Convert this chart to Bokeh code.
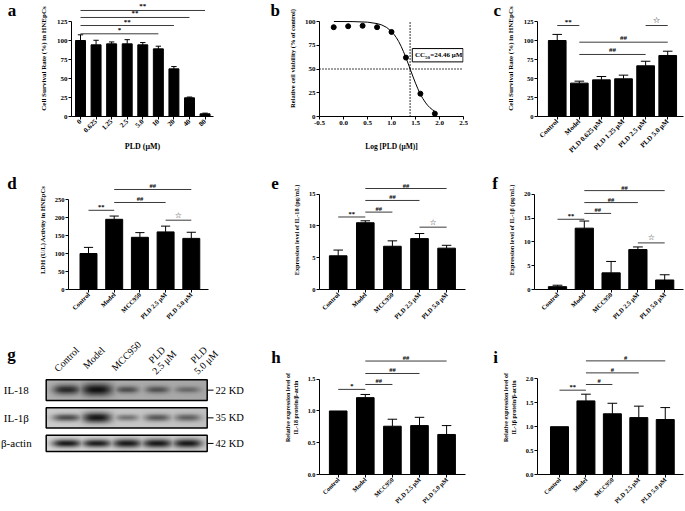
import numpy as np
from math import pi
from bokeh.plotting import figure
from bokeh.models import Range1d, FixedTicker, PrintfTickFormatter
from bokeh.layouts import column, row
from bokeh.embed import file_html
from bokeh.resources import INLINE
from bokeh.core.properties import value

SERIF = "Liberation Serif"
SYMBOL = "DejaVu Sans"

# ---------------- data ----------------
a_doses = ["0", "0.625", "1.25", "2.5", "5.0", "10", "20", "40", "80"]
a_survival = [100, 94.3, 95.6, 95.6, 94.3, 89.0, 62.7, 24.6, 3.5]
a_sd = [7.5, 6.0, 2.5, 5.5, 3.0, 3.5, 3.0, 1.0, 0.9]
a_sig_from = [0, 0, 0, 0]
a_sig_to = [5, 6, 7, 8]
a_sig_y = [108.8, 119.7, 130.3, 139.5]
a_sig_text = ["*", "**", "**", "**"]

b_log_dose = [-0.204, 0.097, 0.398, 0.699, 1.0, 1.301, 1.602, 1.903]
b_viability = [94, 95, 95.5, 94, 89, 62, 24, 3]
b_fit_x = [-0.2, 0.2, 0.5, 0.7, 0.8, 0.9, 1.0, 1.05, 1.1, 1.15, 1.2, 1.25, 1.3,
           1.35, 1.4, 1.45, 1.5, 1.55, 1.6, 1.65, 1.7, 1.75, 1.8, 1.85, 1.9]
b_fit_y = [100.0, 99.9, 99.3, 97.8, 96.3, 93.7, 89.5, 86.6, 83.1, 78.9, 73.9, 68.2, 62.0,
           55.3, 48.4, 41.6, 35.1, 29.1, 23.7, 19.1, 15.2, 11.9, 9.3, 7.2, 5.6]
b_cc50_log = 1.388
b_cc50_value = "=24.46 μM"

c_groups = ["Control", "Model", "PLD 0.625 μM", "PLD 1.25 μM", "PLD 2.5 μM", "PLD 5.0 μM"]
c_survival = [100, 43.9, 48.2, 49.6, 66.7, 80.3]
c_sd = [8.0, 2.6, 4.4, 4.8, 6.0, 5.6]
c_sig_from = [0, 4, 1, 1]
c_sig_to = [1, 5, 5, 4]
c_sig_y = [119.7, 119.7, 97.8, 81.6]
c_sig_text = ["**", "☆", "##", "##"]

groups5 = ["Control", "Model", "MCC950", "PLD 2.5 μM", "PLD 5.0 μM"]

d_ldh = [100, 195, 145, 160, 142]
d_sd = [17, 9, 13, 16, 17]
d_sig_from = [0, 1, 1, 3]
d_sig_to = [1, 3, 4, 4]
d_sig_y = [220, 241.7, 277.8, 192.5]
d_sig_text = ["**", "##", "##", "☆"]

e_il18 = [5.3, 10.5, 6.8, 8.0, 6.5]
e_sd = [0.9, 0.3, 0.85, 0.8, 0.45]
e_sig_from = [0, 1, 1, 1, 3]
e_sig_to = [1, 2, 3, 4, 4]
e_sig_y = [11.4, 12.17, 14.0, 15.88, 9.8]
e_sig_text = ["**", "##", "##", "##", "☆"]

f_il1b = [0.6, 12.9, 3.5, 8.4, 2.0]
f_sd = [0.3, 1.5, 2.4, 0.55, 1.1]
f_sig_from = [0, 1, 1, 1, 3]
f_sig_to = [1, 2, 3, 4, 4]
f_sig_y = [14.77, 16.0, 18.28, 20.8, 9.8]
f_sig_text = ["**", "##", "##", "##", "☆"]

g_lanes = ["Control", "Model", "MCC950", "PLD\n2.5 μM", "PLD\n5.0 μM"]
g_targets = ["IL-18", "IL-1β", "β-actin"]
g_kd = ["22 KD", "35 KD", "42 KD"]
g_il18_band = [0.85, 1.00, 0.60, 0.58, 0.42]
g_il1b_band = [0.68, 0.97, 0.45, 0.60, 0.55]
g_actin_band = [0.97, 0.95, 0.97, 0.97, 0.97]

h_ratio = [1.0, 1.21, 0.76, 0.77, 0.63]
h_sd = [0.0, 0.05, 0.11, 0.13, 0.14]
h_sig_from = [0, 1, 1, 1]
h_sig_to = [1, 2, 3, 4]
h_sig_y = [1.34, 1.417, 1.59, 1.786]
h_sig_text = ["*", "##", "##", "##"]

i_ratio = [1.0, 1.54, 1.27, 1.19, 1.15]
i_sd = [0.0, 0.14, 0.22, 0.24, 0.25]
i_sig_from = [0, 1, 1, 1]
i_sig_to = [1, 2, 3, 4]
i_sig_y = [1.764, 1.883, 2.126, 2.377]
i_sig_text = ["**", "#", "#", "#"]


# ---------------- helpers ----------------
def base_fig(cell, frame, x_range, y_range, axes=True):
    cl, ct, cr, cb = cell
    fl, ft, fr, fb = frame
    kw = {}
    if not axes:
        kw = dict(x_axis_type=None, y_axis_type=None)
    p = figure(width=cr - cl, height=cb - ct, x_range=x_range, y_range=y_range,
               min_border_left=fl - cl, min_border_right=cr - fr,
               min_border_top=ft - ct, min_border_bottom=cb - fb,
               output_backend="svg", toolbar_location=None, title=None, **kw)
    p.xgrid.visible = False
    p.ygrid.visible = False
    p.outline_line_color = None
    p.background_fill_color = "white"
    p.border_fill_color = "white"
    return p


def letter_fig(cell, letter, xy):
    cl, ct, cr, cb = cell
    p = base_fig(cell, cell, Range1d(cl, cr), Range1d(0, cb - ct), axes=False)
    p.text(x=[xy[0]], y=[cb - xy[1]], text=[letter], text_align="left",
           text_baseline="alphabetic", text_font=value(SERIF), text_font_style="bold",
           text_font_size="17px", text_color="black")
    return p


def style_axes(p, tick_px, lab_px, lab_standoff=6):
    for ax in p.axis:
        ax.axis_line_color = "black"
        ax.axis_line_width = 1
        ax.major_tick_line_color = "black"
        ax.major_tick_line_width = 1
        ax.major_tick_in = 0
        ax.major_tick_out = 3
        ax.minor_tick_line_color = None
        ax.major_label_text_font = SERIF
        ax.major_label_text_font_style = "bold"
        ax.major_label_text_font_size = f"{tick_px}px"
        ax.major_label_text_color = "black"
        ax.major_label_standoff = 1
        ax.axis_label_text_font = SERIF
        ax.axis_label_text_font_style = "bold"
        ax.axis_label_text_font_size = f"{lab_px}px"
        ax.axis_label_text_color = "black"
        ax.axis_label_standoff = lab_standoff


def add_sig(p, s_from, s_to, s_y, s_text, size_px):
    p.segment(x0=s_from, x1=s_to, y0=s_y, y1=s_y, line_color="#3a3a3a", line_width=1)
    mids = [(a + b) / 2 for a, b in zip(s_from, s_to)]
    normal = [k for k, t in enumerate(s_text) if t != "☆"]
    stars = [k for k, t in enumerate(s_text) if t == "☆"]
    if normal:
        p.text(x=[mids[k] for k in normal], y=[s_y[k] for k in normal],
               text=[s_text[k] for k in normal], text_align="center",
               text_baseline="bottom", text_font=value(SERIF), text_font_style="bold",
               text_font_size=f"{size_px}px", text_color="black")
    if stars:
        p.text(x=[mids[k] for k in stars], y=[s_y[k] for k in stars],
               text=[s_text[k] for k in stars], text_align="center",
               text_baseline="bottom", text_font=value(SYMBOL), text_font_style="bold",
               text_font_size=f"{size_px + 1.5}px", text_color="#222222", y_offset=-0.5)


def bar_panel(cell, frame, first_px, step_px, ppu, cats, vals, sds,
              s_from, s_to, s_y, s_text, yticks, ylabel, tick_px, lab_px,
              bar_w=0.66, yfmt=None, xlabel=None, sig_px=7, xtick_px=None):
    fl, ft, fr, fb = frame
    x0 = -(first_px - fl) / step_px
    xr = Range1d(x0, x0 + (fr - fl) / step_px)
    yr = Range1d(0, (fb - ft) / ppu)
    p = base_fig(cell, frame, xr, yr)
    idx = list(range(len(cats)))
    p.vbar(x=idx, top=vals, width=bar_w, fill_color="black", line_color="black", line_width=1)
    ei = [k for k in idx if sds[k] > 0]
    tops = [vals[k] + sds[k] for k in ei]
    cw = bar_w * 0.27
    p.segment(x0=ei, x1=ei, y0=[vals[k] for k in ei], y1=tops, line_color="black", line_width=1)
    p.segment(x0=[k - cw for k in ei], x1=[k + cw for k in ei], y0=tops, y1=tops,
              line_color="black", line_width=1)
    add_sig(p, s_from, s_to, s_y, s_text, sig_px)
    style_axes(p, tick_px, lab_px)
    p.yaxis.bounds = (0, yticks[-1])
    p.yaxis.ticker = FixedTicker(ticks=yticks)
    if yfmt:
        p.yaxis.formatter = PrintfTickFormatter(format=yfmt)
    p.yaxis.axis_label = ylabel
    p.xaxis.ticker = FixedTicker(ticks=idx)
    p.xaxis.major_label_overrides = {k: c for k, c in enumerate(cats)}
    p.xaxis.major_label_orientation = pi / 4
    if xtick_px:
        p.xaxis.major_label_text_font_size = f"{xtick_px}px"
    if xlabel:
        p.xaxis.axis_label = xlabel
        p.xaxis.axis_label_text_font_size = "8px"
        p.xaxis.axis_label_standoff = 5
    return p


# ---------------- row 1 ----------------
la = letter_fig((0, 0, 30, 170), "a", (7.3, 15))
pa = bar_panel((30, 0, 225, 170), (71, 0, 213, 116), 80, 15.57, 0.76,
               a_doses, a_survival, a_sd, a_sig_from, a_sig_to, a_sig_y, a_sig_text,
               [0, 25, 50, 75, 100, 125], "Cell Survival Rate (%) in HNEpCs", 7, 7,
               bar_w=0.64, xlabel="PLD (μM)")

lb = letter_fig((225, 0, 285, 170), "b", (270, 15))
B_CELL = (285, 0, 468, 170)
B_FRAME = (319, 0, 463, 116)
pb = base_fig(B_CELL, B_FRAME, Range1d(-0.5, 2.5), Range1d(0, 116 / 0.95))
pb.line(x=b_fit_x, y=b_fit_y, line_color="black", line_width=1)
pb.segment(x0=[b_cc50_log, -0.5], x1=[b_cc50_log, 2.5], y0=[0, 50], y1=[101, 50],
           line_color="black", line_width=1.6, line_dash="1 2")
pb.scatter(x=b_log_dose, y=b_viability, size=5, marker="circle",
           fill_color="black", line_color="black")
pb.quad(left=[1.433], right=[2.49], bottom=[57.5], top=[71.5],
        fill_color="white", line_color="black", line_width=1)
pb.text(x=[1.487], y=[64.3], text=["CC"], text_baseline="middle", text_align="left",
        text_font=value(SERIF), text_font_style="bold", text_font_size="7px")
pb.text(x=[1.487], y=[64.3], text=["50"], text_baseline="middle", text_align="left",
        text_font=value(SERIF), text_font_style="bold", text_font_size="5px",
        x_offset=10.2, y_offset=2)
pb.text(x=[1.487], y=[64.3], text=[b_cc50_value], text_baseline="middle", text_align="left",
        text_font=value(SERIF), text_font_style="bold", text_font_size="7px",
        x_offset=15.4)
style_axes(pb, 7, 6.5)
pb.yaxis.bounds = (0, 100)
pb.yaxis.ticker = FixedTicker(ticks=[0, 25, 50, 75, 100])
pb.yaxis.axis_label = "Relative cell viability (% of control)"
pb.xaxis.ticker = FixedTicker(ticks=[-0.5, 0, 0.5, 1.0, 1.5, 2.0, 2.5])
pb.xaxis.formatter = PrintfTickFormatter(format="%.1f")
pb.xaxis.axis_label = "Log [PLD (μM)]"
pb.xaxis.axis_label_text_font_size = "7.5px"
pb.xaxis.axis_label_standoff = 14

lc = letter_fig((468, 0, 503, 170), "c", (493, 15))
pc = bar_panel((503, 0, 685, 170), (535, 0, 683, 116), 555, 22.4, 0.76,
               c_groups, c_survival, c_sd, c_sig_from, c_sig_to, c_sig_y, c_sig_text,
               [0, 25, 50, 75, 100, 125], "Cell Survival Rate (%) in HNEpCs", 6.5, 7,
               bar_w=0.8, xtick_px=7)

# ---------------- row 2 ----------------
ld = letter_fig((0, 170, 30, 340), "d", (6.7, 188))
pd_ = bar_panel((30, 170, 225, 340), (68, 170, 208, 289), 88, 25.7, 0.36,
                groups5, d_ldh, d_sd, d_sig_from, d_sig_to, d_sig_y, d_sig_text,
                [0, 50, 100, 150, 200, 250], "LDH (U/L) Activity in HNEpCs", 6.5, 6.5,
                bar_w=0.66, sig_px=6.5)
le = letter_fig((225, 170, 285, 340), "e", (270.7, 188.3))
pe = bar_panel((285, 170, 468, 340), (319, 170, 465, 291), 337.7, 27.1, 6.467,
               groups5, e_il18, e_sd, e_sig_from, e_sig_to, e_sig_y, e_sig_text,
               [0, 5, 10, 15], "Expression level of IL-18 (pg/mL)", 6.5, 6.3,
               bar_w=0.65, sig_px=6.5)
lf = letter_fig((468, 170, 503, 340), "f", (491.7, 188))
pf = bar_panel((503, 170, 685, 340), (534, 170, 683, 291), 557, 26.8, 4.835,
               groups5, f_il1b, f_sd, f_sig_from, f_sig_to, f_sig_y, f_sig_text,
               [0, 5, 10, 15, 20], "Expression level of IL-1β (pg/mL)", 6.5, 6.3,
               bar_w=0.68, sig_px=6.5)

# ---------------- panel g (western blot) ----------------
G_CELL = (0, 340, 250, 511)
LANE_X0, LANE_DX = 66.0, 30.2
BOXES = [(45.7, 390.0, 206.7, 416.7), (45.7, 425.7, 206.7, 451.7), (45.7, 461.0, 206.7, 481.7)]
BAND_W = [[27, 31, 23, 24, 25], [28, 29, 23, 26, 26], [29, 29, 29, 30, 29]]
BAND_H = [[12, 15, 9, 9, 8], [9, 13, 8, 9, 9], [10, 10, 11, 11, 11]]
BLOT_BG = [178, 205, 218]
HEADER_DX = [0, -3, -0.7, 3.4, 15]
HEADER_Y = [364, 362, 359.7, 363, 363]


def Y(ref):
    return G_CELL[3] - ref


def blot_rgba(dark, widths, heights, bg, box, ss=2):
    l, t, r, b = box
    W = int(round((r - l) * ss))
    H = int(round((b - t) * ss))
    xs = l + (np.arange(W) + 0.5) / ss
    ys = t + (np.arange(H) + 0.5) / ss
    X, YY = np.meshgrid(xs, ys)
    cy = (t + b) / 2
    d = np.zeros_like(X)
    for k in range(len(dark)):
        cx = LANE_X0 + k * LANE_DX
        prof = dark[k] * np.exp(-np.abs((X - cx) / (widths[k] / 2)) ** 3) \
            * np.exp(-((YY - cy) / (heights[k] / 2)) ** 2)
        d = np.maximum(d, prof)
    edge = 1 - 0.06 * ((X - l) / (r - l))
    g = bg * edge * (1 - d) + 18 * d
    gi = np.clip(g, 0, 255).astype(np.uint8)
    img = np.empty((H, W), dtype=np.uint32)
    v = img.view(dtype=np.uint8).reshape((H, W, 4))
    v[..., 0] = gi
    v[..., 1] = gi
    v[..., 2] = gi
    v[..., 3] = 255
    return img[::-1]


pg = base_fig(G_CELL, G_CELL, Range1d(G_CELL[0], G_CELL[2]),
              Range1d(0, G_CELL[3] - G_CELL[1]), axes=False)
bands = [g_il18_band, g_il1b_band, g_actin_band]
for k, box in enumerate(BOXES):
    l, t, r, b = box
    img = blot_rgba(bands[k], BAND_W[k], BAND_H[k], BLOT_BG[k], box)
    pg.image_rgba(image=[img], x=l, y=Y(b), dw=r - l, dh=b - t)
pg.quad(left=[bx[0] for bx in BOXES], right=[bx[2] for bx in BOXES],
        top=[Y(bx[1]) for bx in BOXES], bottom=[Y(bx[3]) for bx in BOXES],
        fill_color=None, line_color="black", line_width=1.5)
mid_y = [Y((bx[1] + bx[3]) / 2) for bx in BOXES]
pg.text(x=[3.3, 3.3, 0.5], y=mid_y, text=g_targets, text_align="left", text_baseline="middle",
        text_font=value(SERIF), text_font_size="11px", text_color="black")
pg.segment(x0=[206.7] * 3, x1=[213] * 3, y0=mid_y, y1=mid_y, line_color="black", line_width=1)
pg.text(x=[215] * 3, y=mid_y, text=g_kd, text_align="left", text_baseline="middle",
        text_font=value(SERIF), text_font_size="10.5px", text_color="black")
pg.text(x=[LANE_X0 + k * LANE_DX + HEADER_DX[k] for k in range(5)],
        y=[Y(v) for v in HEADER_Y], text=g_lanes, angle=pi / 4,
        text_align="center", text_baseline="middle", text_font=value(SERIF),
        text_font_size="10px", text_color="black", text_line_height=0.95)
pg.text(x=[6.7], y=[Y(358)], text=["g"], text_align="left", text_baseline="alphabetic",
        text_font=value(SERIF), text_font_style="bold", text_font_size="17px")

# ---------------- panels h, i ----------------
lh = letter_fig((250, 340, 282, 511), "h", (270.7, 361.7))
ph = bar_panel((282, 340, 468, 511), (319, 340, 465, 475), 337.7, 27.1, 64,
               groups5, h_ratio, h_sd, h_sig_from, h_sig_to, h_sig_y, h_sig_text,
               [0, 0.5, 1.0, 1.5], "Relative expression level of\nIL-18 protein/β-actin", 6.3, 6,
               bar_w=0.65, yfmt="%.1f", sig_px=6.5)
li = letter_fig((468, 340, 500, 511), "i", (492.7, 361.7))
pi_ = bar_panel((500, 340, 685, 511), (535, 340, 683, 474), 557.3, 26.8, 47.8,
                groups5, i_ratio, i_sd, i_sig_from, i_sig_to, i_sig_y, i_sig_text,
                [0, 0.5, 1.0, 1.5, 2.0], "Relative expression level of\nIL-1β protein/β-actin", 6.3, 6,
                bar_w=0.68, yfmt="%.1f", sig_px=6.5)

layout = column(row(la, pa, lb, pb, lc, pc),
                row(ld, pd_, le, pe, lf, pf),
                row(pg, lh, ph, li, pi_))
open("out.html", "w").write(file_html(layout, INLINE))
